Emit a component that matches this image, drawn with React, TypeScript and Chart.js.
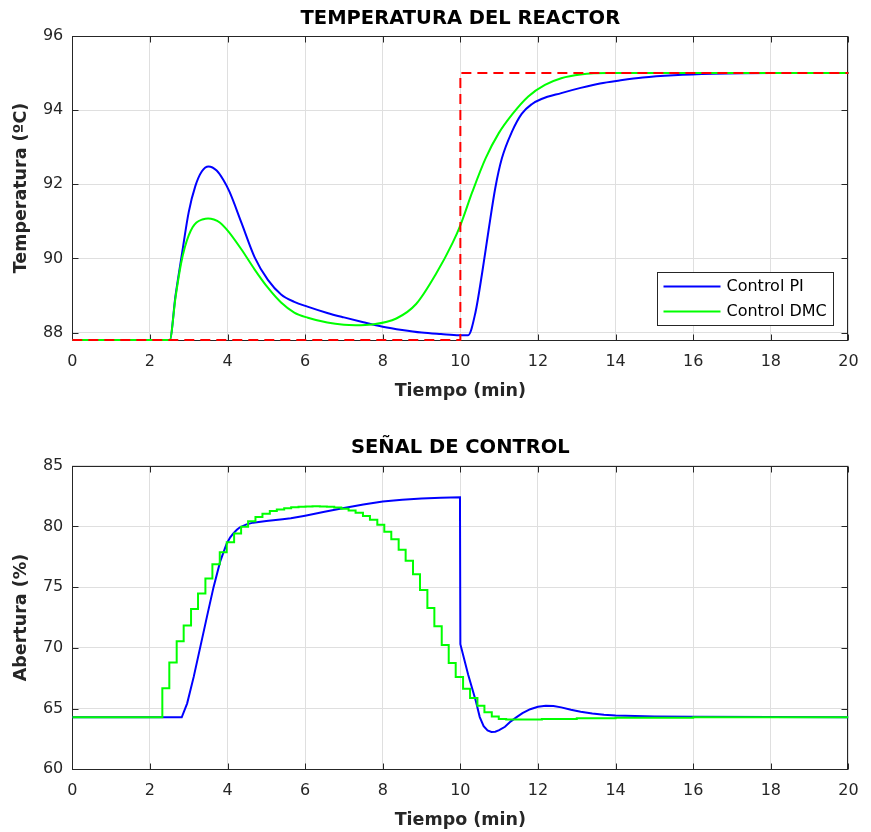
import React, { useEffect, useRef } from 'react';
import { Chart, registerables } from 'chart.js';

Chart.register(...registerables);

// ---------------- data ----------------
const timeTicks = [0, 2, 4, 6, 8, 10, 12, 14, 16, 18, 20];
const tempTicks = [88, 90, 92, 94, 96];
const openTicks = [60, 65, 70, 75, 80, 85];

const tempTimePI = [0, 2.51, 2.66, 2.83, 3.0, 3.17, 3.34, 3.51, 3.72, 3.89, 4.05, 4.36, 4.7, 5.04, 5.38, 5.72, 6.06, 6.57, 7.0, 7.5, 8.0, 8.5, 9.0, 9.5, 9.97, 10.2, 10.39, 10.56, 10.73, 10.9, 11.07, 11.33, 11.58, 11.84, 12.09, 12.6, 13.1, 13.6, 14.1, 14.7, 15.5, 16.5, 18, 20];
const tempPI = [87.8, 87.8, 89.0, 90.15, 91.25, 91.95, 92.35, 92.48, 92.37, 92.12, 91.8, 90.96, 90.03, 89.42, 89.03, 88.83, 88.7, 88.53, 88.41, 88.28, 88.16, 88.07, 88.0, 87.96, 87.93, 87.93, 88.55, 89.6, 90.78, 91.9, 92.7, 93.42, 93.9, 94.16, 94.3, 94.46, 94.6, 94.72, 94.8, 94.88, 94.94, 94.98, 95.0, 95.0];

const tempTimeDMC = [0, 2.51, 2.66, 2.8, 2.9, 3.0, 3.1, 3.2, 3.35, 3.5, 3.65, 3.8, 4.02, 4.36, 4.7, 5.04, 5.38, 5.72, 6.07, 6.57, 7.0, 7.3, 7.72, 8.35, 8.86, 9.37, 9.8, 10.01, 10.31, 10.65, 10.99, 11.33, 11.75, 12.18, 12.6, 13.1, 13.8, 15, 17, 20];
const tempDMC = [87.8, 87.8, 88.95, 89.85, 90.3, 90.62, 90.84, 90.97, 91.05, 91.08, 91.05, 90.97, 90.73, 90.24, 89.7, 89.21, 88.81, 88.54, 88.4, 88.27, 88.21, 88.2, 88.22, 88.38, 88.77, 89.58, 90.42, 90.92, 91.8, 92.7, 93.38, 93.88, 94.37, 94.68, 94.86, 94.96, 95.0, 95.0, 95.0, 95.0];

const setpointTime = [0, 10, 10, 20];
const setpoint = [87.8, 87.8, 95, 95];

const uTimePI = [0, 2.82, 2.96, 3.13, 3.3, 3.47, 3.64, 3.81, 3.9, 3.98, 4.07, 4.15, 4.24, 4.32, 4.49, 4.66, 5.0, 5.42, 5.63, 6.0, 6.5, 7.0, 7.5, 8.0, 8.5, 9.0, 9.5, 9.99, 10.0, 10.2, 10.4, 10.5, 10.6, 10.7, 10.8, 10.9, 11.0, 11.15, 11.3, 11.45, 11.6, 11.8, 12.0, 12.2, 12.4, 12.6, 12.85, 13.1, 13.4, 13.7, 14.0, 14.5, 15, 16, 18, 20];
const uPI = [64.28, 64.28, 65.43, 67.63, 70.1, 72.57, 75.0, 77.1, 77.9, 78.6, 79.1, 79.43, 79.72, 79.93, 80.17, 80.31, 80.45, 80.59, 80.67, 80.88, 81.2, 81.52, 81.8, 82.05, 82.2, 82.3, 82.36, 82.4, 70.3, 67.8, 65.6, 64.3, 63.55, 63.2, 63.08, 63.1, 63.22, 63.5, 63.95, 64.3, 64.62, 64.95, 65.15, 65.23, 65.21, 65.1, 64.9, 64.74, 64.6, 64.5, 64.43, 64.38, 64.35, 64.32, 64.3, 64.29];

const uTimeDMC = [0, 2.32, 2.5, 2.69, 2.87, 3.06, 3.24, 3.43, 3.61, 3.8, 3.98, 4.17, 4.35, 4.53, 4.72, 4.9, 5.09, 5.27, 5.46, 5.64, 5.83, 6.01, 6.19, 6.38, 6.56, 6.75, 6.93, 7.12, 7.3, 7.49, 7.67, 7.86, 8.04, 8.22, 8.41, 8.59, 8.78, 8.96, 9.15, 9.33, 9.52, 9.7, 9.88, 10.07, 10.25, 10.44, 10.62, 10.81, 10.99, 11.18, 11.36, 12.1, 13.0, 14.0, 16.0, 20.0];
const uDMC = [64.28, 66.67, 68.8, 70.55, 71.85, 73.2, 74.48, 75.72, 76.88, 77.88, 78.7, 79.42, 79.98, 80.42, 80.78, 81.05, 81.26, 81.4, 81.5, 81.57, 81.62, 81.65, 81.66, 81.65, 81.62, 81.56, 81.46, 81.32, 81.12, 80.86, 80.55, 80.14, 79.57, 78.94, 78.08, 77.18, 76.07, 74.76, 73.28, 71.77, 70.24, 68.76, 67.6, 66.64, 65.88, 65.23, 64.7, 64.35, 64.15, 64.1, 64.1, 64.14, 64.2, 64.25, 64.28, 64.28];

// ---------------- styling ----------------
const FONT = '"DejaVu Sans", "Liberation Sans", sans-serif';
const AXIS_COLOR = '#262626';
const GRID_COLOR = '#dfdfdf';
const BLUE = '#0000ff';
const GREEN = '#00ff00';
const RED = '#ff0000';

const xy = (t: number[], v: number[]) => t.map((x, i) => ({ x, y: v[i] }));

const framePlugin = {
  id: 'matlabFrame',
  beforeDatasetsDraw(chart: any) {
    const { ctx, chartArea: a, scales } = chart;
    ctx.save();
    ctx.strokeStyle = AXIS_COLOR;
    ctx.lineWidth = 1;
    const L = Math.round(a.left) + 0.5;
    const R = Math.round(a.right) - 0.5;
    const T = Math.round(a.top) + 0.5;
    const B = Math.round(a.bottom) + 0.5;
    const tl = 6;
    ctx.beginPath();
    scales.x.ticks.forEach((t: any) => {
      const p = Math.round(scales.x.getPixelForValue(t.value)) + 0.5;
      ctx.moveTo(p, B); ctx.lineTo(p, B - tl);
      ctx.moveTo(p, T); ctx.lineTo(p, T + tl);
    });
    scales.y.ticks.forEach((t: any) => {
      const p = Math.round(scales.y.getPixelForValue(t.value)) + 0.5;
      ctx.moveTo(L, p); ctx.lineTo(L + tl, p);
      ctx.moveTo(R, p); ctx.lineTo(R - tl, p);
    });
    ctx.stroke();
    ctx.strokeRect(L, T, R - L, B - T);
    ctx.restore();
  },
};

const insideLegendPlugin = {
  id: 'insideLegend',
  afterDraw(chart: any) {
    const { ctx, chartArea: a } = chart;
    const items = chart.data.datasets.filter((d: any) => d.label);
    const w = 176;
    const h = 53;
    const x0 = Math.round(a.right - 15 - w) + 0.5;
    const y0 = Math.round(a.bottom - 15 - h) + 0.5;
    ctx.save();
    ctx.fillStyle = '#ffffff';
    ctx.fillRect(x0, y0, w, h);
    ctx.strokeStyle = AXIS_COLOR;
    ctx.lineWidth = 1;
    ctx.strokeRect(x0, y0, w, h);
    items.forEach((d: any, i: number) => {
      const y = y0 + 14 + i * 25;
      ctx.strokeStyle = d.borderColor;
      ctx.lineWidth = 2;
      ctx.beginPath();
      ctx.moveTo(x0 + 6, y);
      ctx.lineTo(x0 + 63, y);
      ctx.stroke();
      ctx.fillStyle = '#000000';
      ctx.font = `16px ${FONT}`;
      ctx.textAlign = 'left';
      ctx.textBaseline = 'middle';
      ctx.fillText(d.label, x0 + 69, y);
    });
    ctx.restore();
  },
};

function makeOptions(p: {
  title: string; titleTop: number; titleBottom: number;
  yTitle: string; yMin: number; yMax: number; yTicks: number[];
  xHeight: number; xTitleBottom: number;
}) {
  return {
    responsive: false,
    animation: false,
    devicePixelRatio: 1,
    layout: { padding: { left: 0, right: 14, top: 0, bottom: 0 } },
    plugins: {
      legend: { display: false },
      tooltip: { enabled: false },
      title: {
        display: true,
        fullSize: false,
        text: p.title,
        color: '#000000',
        font: { family: FONT, size: 19.5, weight: 'bold' },
        padding: { top: p.titleTop, bottom: p.titleBottom },
      },
    },
    elements: { point: { radius: 0 } },
    scales: {
      x: {
        type: 'linear',
        min: 0,
        max: 20,
        afterBuildTicks: (s: any) => { s.ticks = timeTicks.map((v) => ({ value: v })); },
        afterFit: (s: any) => { s.height = p.xHeight; },
        grid: { color: GRID_COLOR, drawTicks: false, lineWidth: 1 },
        border: { display: false },
        ticks: { color: AXIS_COLOR, padding: 12.4, maxRotation: 0, autoSkip: false, font: { family: FONT, size: 16 } },
        title: {
          display: true,
          text: 'Tiempo (min)',
          color: AXIS_COLOR,
          font: { family: FONT, size: 17.5, weight: 'bold' },
          padding: { top: 0, bottom: p.xTitleBottom },
        },
      },
      y: {
        type: 'linear',
        min: p.yMin,
        max: p.yMax,
        afterBuildTicks: (s: any) => { s.ticks = p.yTicks.map((v) => ({ value: v })); },
        afterFit: (s: any) => { s.width = 72.3; },
        grid: { color: GRID_COLOR, drawTicks: false, lineWidth: 1 },
        border: { display: false },
        ticks: { color: AXIS_COLOR, padding: 9, font: { family: FONT, size: 16 } },
        title: {
          display: true,
          text: p.yTitle,
          color: AXIS_COLOR,
          font: { family: FONT, size: 17.5, weight: 'bold' },
          padding: { top: 11.2, bottom: 0 },
        },
      },
    },
  };
}

const topConfig: any = {
  type: 'line',
  data: {
    datasets: [
      {
        label: '',
        data: xy(setpointTime, setpoint),
        borderColor: RED,
        borderWidth: 2,
        borderDash: [10, 6],
        tension: 0,
        clip: false,
        order: 0,
      },
      {
        label: 'Control PI',
        data: xy(tempTimePI, tempPI),
        borderColor: BLUE,
        borderWidth: 2,
        cubicInterpolationMode: 'monotone',
        clip: false,
        order: 2,
      },
      {
        label: 'Control DMC',
        data: xy(tempTimeDMC, tempDMC),
        borderColor: GREEN,
        borderWidth: 2,
        cubicInterpolationMode: 'monotone',
        clip: false,
        order: 1,
      },
    ],
  },
  options: makeOptions({
    title: 'TEMPERATURA DEL REACTOR', titleTop: 7.5, titleBottom: 5.1,
    yTitle: 'Temperatura (ºC)', yMin: 87.8, yMax: 96, yTicks: tempTicks,
    xHeight: 76, xTitleBottom: 14,
  }),
  plugins: [framePlugin, insideLegendPlugin],
};

const bottomConfig: any = {
  type: 'line',
  data: {
    datasets: [
      {
        label: 'Control PI',
        data: xy(uTimePI, uPI),
        borderColor: BLUE,
        borderWidth: 2,
        tension: 0,
        order: 2,
      },
      {
        label: 'Control DMC',
        data: xy(uTimeDMC, uDMC),
        borderColor: GREEN,
        borderWidth: 2,
        stepped: 'before',
        order: 1,
      },
    ],
  },
  options: makeOptions({
    title: 'SEÑAL DE CONTROL', titleTop: 20.3, titleBottom: 6.0,
    yTitle: 'Abertura (%)', yMin: 60, yMax: 85, yTicks: openTicks,
    xHeight: 62.7, xTitleBottom: 1.5,
  }),
  plugins: [framePlugin],
};

function ChartCanvas({ config, top }: { config: any; top: number }) {
  const ref = useRef<HTMLCanvasElement>(null);
  useEffect(() => {
    const chart = new Chart(ref.current as HTMLCanvasElement, config);
    return () => chart.destroy();
  }, [config]);
  return (
    <canvas
      ref={ref}
      width={871}
      height={416}
      style={{ position: 'absolute', left: 0, top, width: 871, height: 416 }}
    />
  );
}

export default function App() {
  return (
    <div style={{ position: 'absolute', left: 0, top: 0, width: 871, height: 832, background: '#ffffff' }}>
      <ChartCanvas config={topConfig} top={0} />
      <ChartCanvas config={bottomConfig} top={416} />
    </div>
  );
}
